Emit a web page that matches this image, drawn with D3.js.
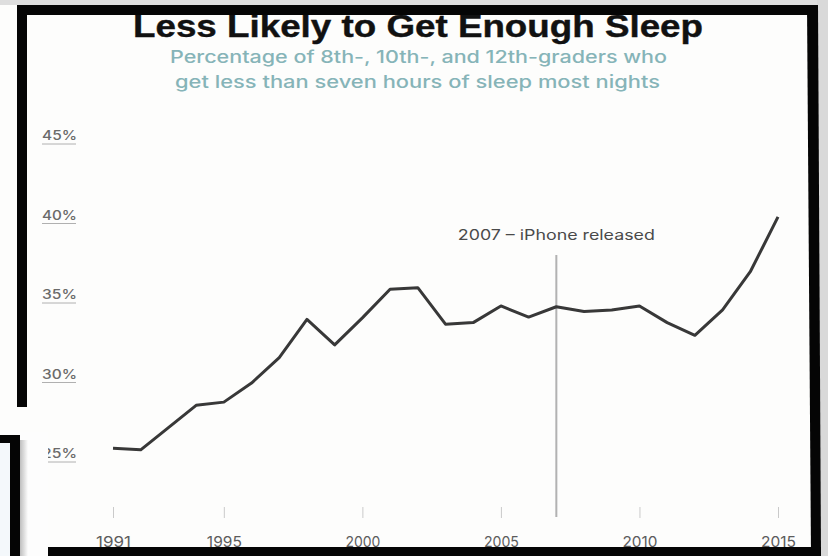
<!DOCTYPE html>
<html>
<head>
<meta charset="utf-8">
<script src="https://cdn.jsdelivr.net/npm/d3@7"></script>
<style>
  html, body { margin: 0; padding: 0; background: #fff; }
  svg { display: block; }
</style>
</head>
<body>
<svg id="chart" width="828" height="556"></svg>
<script>
// Share of 8th-, 10th- and 12th-graders sleeping under seven hours most nights
const years = [1991, 1992, 1993, 1994, 1995, 1996, 1997, 1998, 1999, 2000,
               2001, 2002, 2003, 2004, 2005, 2006, 2007, 2008, 2009, 2010,
               2011, 2012, 2013, 2014, 2015];
const shortSleep = [25.3, 25.2, 26.6, 28.0, 28.2, 29.4, 31.0, 33.4, 31.8, 33.5,
                    35.3, 35.4, 33.1, 33.2, 34.25, 33.55, 34.2, 33.9, 34.0, 34.25,
                    33.2, 32.4, 34.0, 36.4, 39.85];
const yTicks = [25, 30, 35, 40, 45];
const xTicks = [1991, 1995, 2000, 2005, 2010, 2015];
const markerYear = 2007;
const markerLabel = "2007 – iPhone released";
const titleText = "Less Likely to Get Enough Sleep";
const subtitleLines = ["Percentage of 8th-, 10th-, and 12th-graders who",
                       "get less than seven hours of sleep most nights"];

const svg = d3.select("#chart");
const W = 828, H = 556;

svg.append("rect").attr("width", W).attr("height", H).attr("fill", "#fdfdfc");

const x = d3.scaleLinear().domain([1991, 2015]).range([113, 778]);
const y = d3.scaleLinear().domain([25, 45]).range([453, 135]);

// Title and subtitle
svg.append("text")
  .attr("x", 418).attr("y", 37)
  .attr("text-anchor", "middle")
  .attr("font-family", "'Liberation Sans', Arial, sans-serif")
  .attr("font-weight", "bold")
  .attr("font-size", 31)
  .attr("fill", "#111")
  .attr("stroke", "#111").attr("stroke-width", 0.4)
  .attr("textLength", 570).attr("lengthAdjust", "spacingAndGlyphs")
  .text(titleText);

const subW = [497, 485];
svg.selectAll("text.sub").data(subtitleLines).join("text")
  .attr("class", "sub")
  .attr("x", (d, i) => i === 0 ? 418.5 : 417.5)
  .attr("y", (d, i) => 63 + i * 25)
  .attr("text-anchor", "middle")
  .attr("font-family", "Inter, 'Noto Sans', sans-serif")
  .attr("font-size", 17)
  .attr("font-weight", 500)
  .attr("fill", "#86b4b8")
  .attr("textLength", (d, i) => subW[i]).attr("lengthAdjust", "spacingAndGlyphs")
  .text(d => d);

// Y axis: labels on the left with a short rule beneath each
const yAxis = svg.append("g")
  .attr("transform", "translate(42,0)")
  .call(d3.axisLeft(y).tickValues(yTicks).tickFormat(d => d + "%").tickSize(0).tickPadding(0));
yAxis.select(".domain").remove();
yAxis.selectAll(".tick text")
  .attr("text-anchor", "start")
  .attr("x", 0)
  .attr("dy", "0.35em")
  .attr("font-family", "Inter, 'Noto Sans', sans-serif")
  .attr("font-size", 13)
  .attr("font-weight", 500)
  .attr("fill", "#6a6a6a")
  .attr("textLength", 35).attr("lengthAdjust", "spacingAndGlyphs");
yAxis.selectAll(".tick").append("line")
  .attr("x1", 0).attr("x2", 34)
  .attr("y1", 8.5).attr("y2", 8.5)
  .attr("stroke", "#b0b0b0").attr("stroke-width", 1);

// X axis: short ticks and year labels
const xAxis = svg.append("g")
  .attr("transform", "translate(0,507)")
  .call(d3.axisBottom(x).tickValues(xTicks).tickFormat(d3.format("d")).tickSize(11).tickPadding(19));
xAxis.select(".domain").remove();
xAxis.selectAll(".tick line").attr("stroke", "#cacaca").attr("stroke-width", 1);
xAxis.selectAll(".tick text")
  .attr("font-family", "Inter, 'Noto Sans', sans-serif")
  .attr("font-size", 14)
  .attr("fill", "#5c5c5c")
  .attr("textLength", 35).attr("lengthAdjust", "spacingAndGlyphs");

// 2007 marker
svg.append("line")
  .attr("x1", x(markerYear)).attr("x2", x(markerYear))
  .attr("y1", 255).attr("y2", 517)
  .attr("stroke", "#b2b2b2").attr("stroke-width", 2);
svg.append("text")
  .attr("x", x(markerYear)).attr("y", 240)
  .attr("text-anchor", "middle")
  .attr("font-family", "Inter, 'Noto Sans', sans-serif")
  .attr("font-size", 14)
  .attr("fill", "#4a4a4a")
  .attr("textLength", 197).attr("lengthAdjust", "spacingAndGlyphs")
  .text(markerLabel);

// Data line
const line = d3.line().x((d, i) => x(years[i])).y(d => y(d));
svg.append("path")
  .datum(shortSleep)
  .attr("d", line)
  .attr("fill", "none")
  .attr("stroke", "#383838")
  .attr("stroke-width", 3)
  .attr("stroke-linejoin", "round");

// Surrounding frame
const frame = svg.append("g");
frame.append("rect").attr("x", 0).attr("y", 0).attr("width", W).attr("height", 5).attr("fill", "#dedede");
frame.append("rect").attr("x", 817).attr("y", 0).attr("width", 11).attr("height", H).attr("fill", "#d9d9d9");
frame.append("rect").attr("x", 17).attr("y", 5).attr("width", 801).attr("height", 10).attr("fill", "#050505");
frame.append("rect").attr("x", 17).attr("y", 5).attr("width", 10).attr("height", 402).attr("fill", "#050505");
frame.append("polygon").attr("points", "807,5 818,5 821,556 811,556").attr("fill", "#050505");
frame.append("rect").attr("x", 48).attr("y", 547).attr("width", 773).attr("height", 9).attr("fill", "#050505");

// Lower-left overlapping window corner
const defs = svg.append("defs");
const grad = defs.append("linearGradient").attr("id", "shade").attr("x1", 0).attr("x2", 1);
grad.append("stop").attr("offset", 0).attr("stop-color", "#000").attr("stop-opacity", 0.25);
grad.append("stop").attr("offset", 1).attr("stop-color", "#000").attr("stop-opacity", 0);
frame.append("rect").attr("x", 0).attr("y", 432).attr("width", 48).attr("height", 124).attr("fill", "#fdfdfd");
frame.append("rect").attr("x", 0).attr("y", 443).attr("width", 10).attr("height", 113).attr("fill", "#f4f8fb");
frame.append("rect").attr("x", 20).attr("y", 440).attr("width", 8).attr("height", 116).attr("fill", "url(#shade)");
frame.append("rect").attr("x", 0).attr("y", 435).attr("width", 20).attr("height", 8).attr("fill", "#050505");
frame.append("rect").attr("x", 10).attr("y", 435).attr("width", 10).attr("height", 121).attr("fill", "#050505");
</script>
</body>
</html>
